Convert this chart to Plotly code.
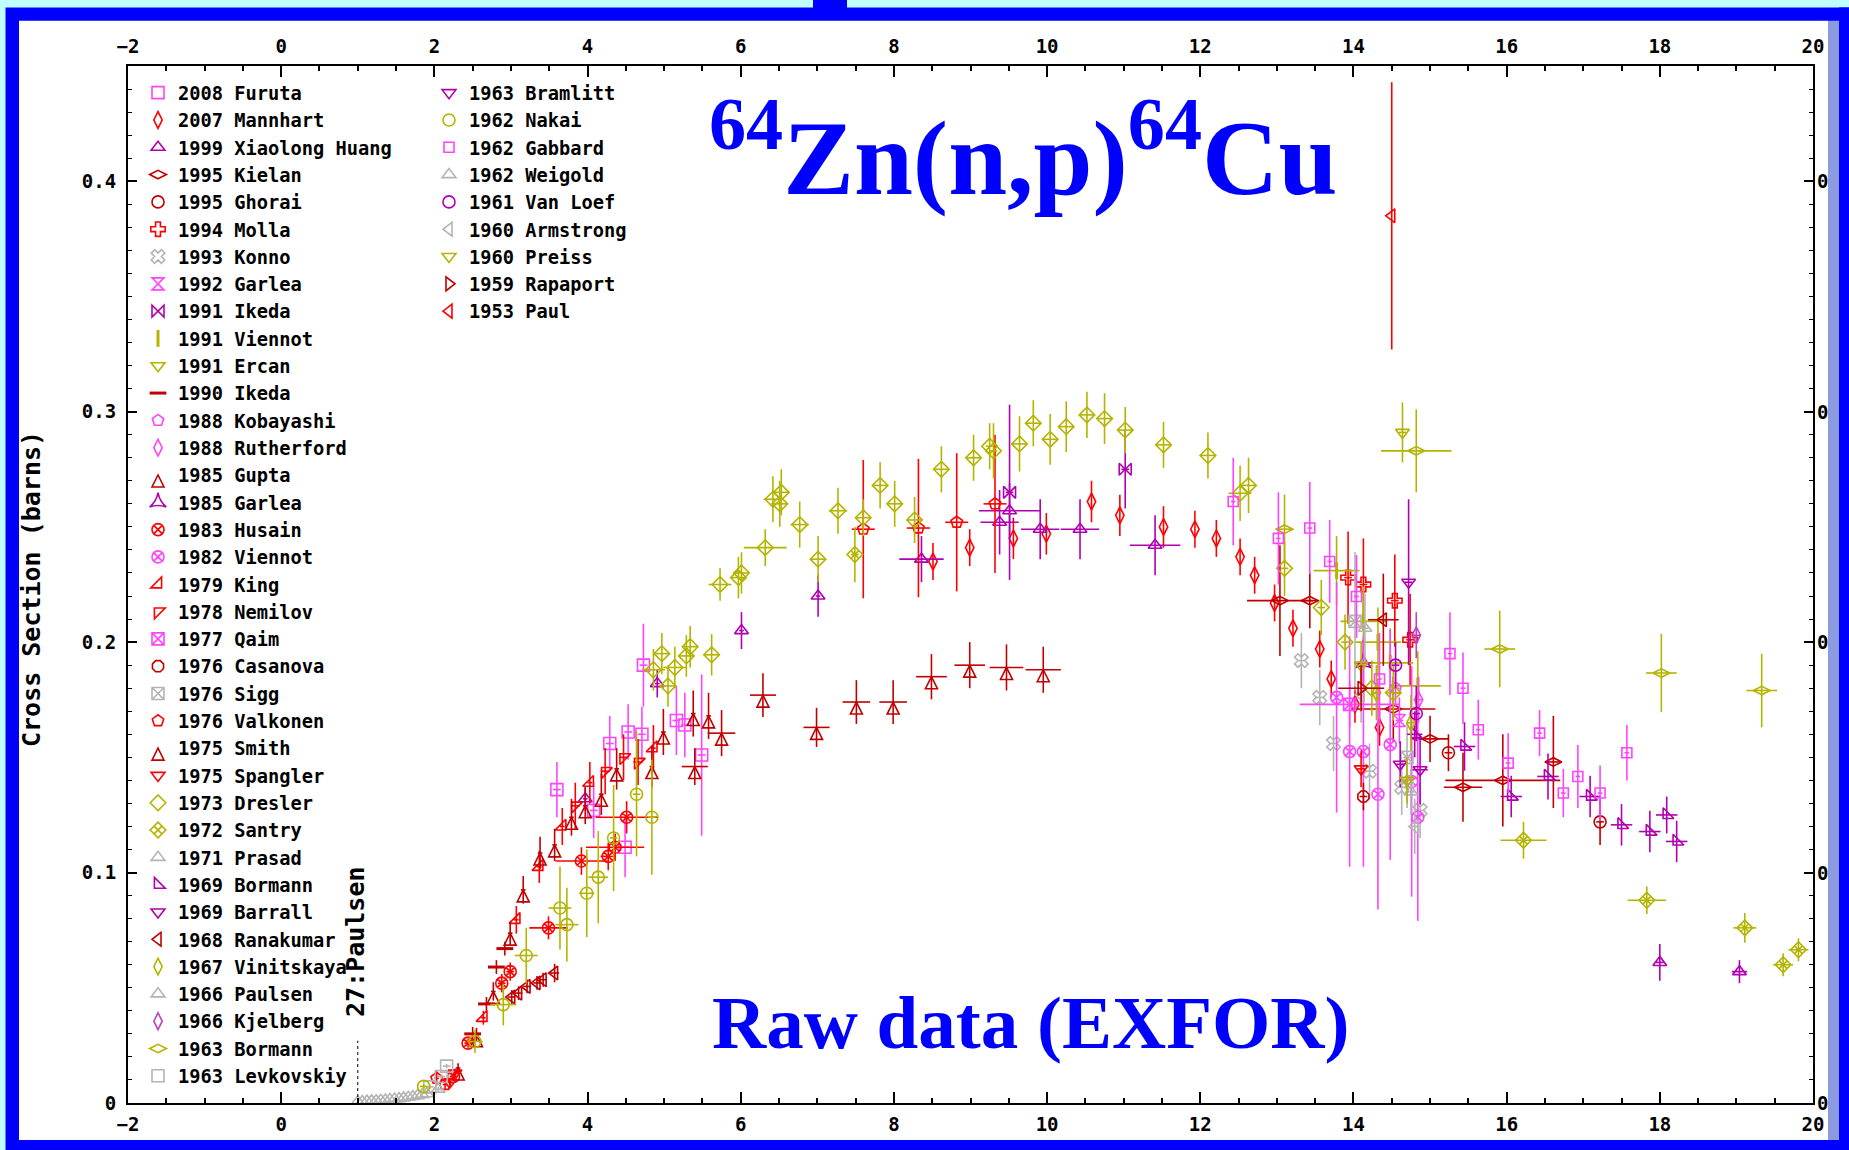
import plotly.graph_objects as go

# ---------------- data: rows are (E [MeV], sigma [b], d_sigma [b], d_E [MeV]) ----------------
furuta = [(3.60, 0.136, 0.012, 0.05), (4.08, 0.127, 0.012, 0.05), (4.29, 0.156, 0.012, 0.05),
          (4.49, 0.111, 0.013, 0.05), (4.53, 0.161, 0.012, 0.05), (4.71, 0.160, 0.012, 0.05),
          (4.73, 0.190, 0.018, 0.05), (5.16, 0.166, 0.015, 0.05), (5.27, 0.164, 0.014, 0.05),
          (5.49, 0.151, 0.035, 0.05)]
mannhart = [(8.51, 0.235, 0.008, 0), (8.99, 0.241, 0.008, 0), (9.56, 0.245, 0.009, 0), (9.99, 0.247, 0.009, 0),
            (10.58, 0.261, 0.009, 0), (10.95, 0.255, 0.009, 0), (11.52, 0.250, 0.009, 0), (11.93, 0.249, 0.008, 0),
            (12.21, 0.245, 0.008, 0), (12.52, 0.237, 0.008, 0), (12.71, 0.229, 0.008, 0), (12.97, 0.217, 0.008, 0),
            (13.21, 0.206, 0.008, 0), (13.56, 0.197, 0.008, 0), (13.71, 0.184, 0.008, 0), (14.02, 0.173, 0.008, 0),
            (14.34, 0.163, 0.008, 0)]
xiaolong_huang = [(3.97, 0.132, 0.005, 0.03), (4.91, 0.182, 0.006, 0.03), (6.01, 0.205, 0.008, 0.03),
                  (7.01, 0.220, 0.009, 0.03), (8.36, 0.236, 0.010, 0.29), (9.38, 0.252, 0.014, 0.25),
                  (9.51, 0.257, 0.012, 0.40), (9.91, 0.249, 0.013, 0.25), (10.43, 0.249, 0.013, 0.25),
                  (11.41, 0.242, 0.013, 0.33), (18.00, 0.061, 0.008, 0.05), (19.04, 0.057, 0.005, 0.10)]
kielan = [(13.04, 0.218, 0.024, 0.43), (13.43, 0.218, 0.012, 0.12), (14.52, 0.171, 0.014, 0.55),
          (15.00, 0.158, 0.010, 0.25), (15.43, 0.137, 0.015, 0.25), (15.95, 0.140, 0.020, 0.75),
          (16.61, 0.148, 0.020, 0.10)]
ghorai = [(15.24, 0.152, 0.008, 0.05), (17.22, 0.122, 0.010, 0.05)]
molla = [(13.93, 0.228, 0.020, 0.05), (14.13, 0.225, 0.020, 0.05), (14.54, 0.218, 0.020, 0.05),
         (14.74, 0.201, 0.020, 0.05)]
konno = [(13.32, 0.192, 0.012, 0.05), (13.56, 0.176, 0.012, 0.05), (13.74, 0.156, 0.012, 0.05),
         (14.21, 0.144, 0.012, 0.05), (14.63, 0.137, 0.012, 0.05), (14.87, 0.127, 0.012, 0.05)]
garlea_1992 = [(14.60, 0.166, 0.010, 0.05)]
ikeda_1991 = [(9.51, 0.265, 0.038, 0.05), (11.02, 0.275, 0.017, 0.05)]
viennot_1991 = [(13.78, 0.231, 0.015, 0.30), (14.13, 0.209, 0.015, 0.30), (14.32, 0.200, 0.015, 0.30),
                (14.48, 0.191, 0.015, 0.30), (14.84, 0.181, 0.015, 0.30)]
ercan = [(14.64, 0.291, 0.013, 0.05)]
ikeda_1990 = [(2.50, 0.030, 0.003, 0.08), (2.68, 0.043, 0.003, 0.08), (2.81, 0.059, 0.003, 0.08),
              (2.92, 0.067, 0.003, 0.08)]
kobayashi = [(14.55, 0.180, 0.008, 0.05)]
rutherford = [(14.85, 0.175, 0.010, 0.05)]
gupta = [(6.29, 0.177, 0.0095, 0.17), (6.99, 0.163, 0.0085, 0.17), (7.51, 0.174, 0.0095, 0.18),
         (7.99, 0.174, 0.0095, 0.18), (8.49, 0.185, 0.0098, 0.20), (8.99, 0.190, 0.010, 0.20),
         (9.47, 0.189, 0.010, 0.22), (9.95, 0.188, 0.010, 0.23)]
garlea_1985 = [(14.13, 0.191, 0.010, 0.12)]
husain = [(2.25, 0.0115, 0.002, 0.05), (2.44, 0.026, 0.002, 0.05), (2.88, 0.052, 0.004, 0.05),
          (2.99, 0.057, 0.004, 0.05), (3.49, 0.076, 0.005, 0.25), (3.92, 0.105, 0.006, 0.34),
          (4.27, 0.107, 0.006, 0.10), (4.36, 0.111, 0.006, 0.38), (4.51, 0.124, 0.007, 0.40)]
viennot_1982 = [(13.78, 0.176, 0.050, 0), (13.95, 0.1525, 0.050, 0), (14.13, 0.1525, 0.050, 0),
                (14.32, 0.134, 0.050, 0), (14.48, 0.1555, 0.050, 0), (14.76, 0.1395, 0.050, 0),
                (14.84, 0.124, 0.045, 0)]
king = [(2.64, 0.037, 0.003, 0.03), (3.07, 0.0795, 0.006, 0.03), (3.37, 0.1025, 0.007, 0.03),
        (3.67, 0.120, 0.008, 0.03), (4.03, 0.139, 0.009, 0.03), (4.86, 0.154, 0.010, 0.03)]
nemilov = [(3.84, 0.129, 0.010, 0.06), (4.23, 0.144, 0.010, 0.06), (4.47, 0.150, 0.010, 0.06),
           (4.66, 0.148, 0.010, 0.06)]
qaim = [(13.95, 0.173, 0.010, 0.65)]
casanova = [(14.13, 0.133, 0.006, 0.05)]
sigg = [(14.02, 0.209, 0.030, 0.05), (14.70, 0.150, 0.015, 0.05)]
valkonen = [(2.03, 0.0107, 0.003, 0.03), (2.14, 0.008, 0.002, 0.03), (7.60, 0.249, 0.030, 0.15),
            (8.32, 0.2495, 0.030, 0.15), (8.82, 0.252, 0.030, 0.15), (9.32, 0.260, 0.030, 0.15)]
smith = [(2.31, 0.0152, 0.002, 0.03), (2.55, 0.0296, 0.003, 0.03), (2.77, 0.0484, 0.004, 0.03),
         (2.99, 0.0737, 0.005, 0.03), (3.16, 0.0925, 0.006, 0.03), (3.38, 0.1085, 0.007, 0.03),
         (3.57, 0.112, 0.007, 0.03), (3.79, 0.124, 0.008, 0.03), (3.97, 0.129, 0.008, 0.03),
         (4.18, 0.134, 0.009, 0.03), (4.38, 0.145, 0.009, 0.03), (4.84, 0.146, 0.009, 0.03),
         (4.99, 0.161, 0.010, 0.03), (5.38, 0.169, 0.010, 0.03), (5.40, 0.146, 0.008, 0.17),
         (5.58, 0.168, 0.010, 0.03), (5.75, 0.1605, 0.010, 0.18)]
spangler = [(2.20, 0.009, 0.002, 0.03), (2.27, 0.013, 0.002, 0.03), (14.10, 0.145, 0.008, 0.05)]
dresler = [(4.86, 0.188, 0.009, 0.15), (4.97, 0.195, 0.009, 0.10), (5.05, 0.181, 0.009, 0.10),
           (5.14, 0.189, 0.009, 0.15), (5.29, 0.194, 0.009, 0.10), (5.34, 0.198, 0.009, 0.10),
           (5.62, 0.1945, 0.009, 0.10), (5.73, 0.225, 0.007, 0.15), (5.97, 0.228, 0.009, 0.10),
           (6.01, 0.230, 0.009, 0.10), (6.32, 0.241, 0.008, 0.28), (6.42, 0.262, 0.010, 0.12),
           (6.51, 0.260, 0.010, 0.10), (6.53, 0.265, 0.010, 0.10), (6.77, 0.251, 0.010, 0.12),
           (7.01, 0.236, 0.010, 0.10), (7.27, 0.257, 0.010, 0.12), (7.60, 0.254, 0.008, 0.10),
           (7.82, 0.268, 0.010, 0.10), (8.01, 0.260, 0.010, 0.10), (8.27, 0.253, 0.010, 0.10),
           (8.62, 0.275, 0.010, 0.10), (9.04, 0.280, 0.010, 0.10), (9.25, 0.285, 0.010, 0.05),
           (9.30, 0.283, 0.012, 0.05), (9.64, 0.286, 0.012, 0.10), (9.82, 0.295, 0.010, 0.10),
           (10.04, 0.288, 0.011, 0.10), (10.25, 0.2935, 0.011, 0.10), (10.52, 0.2986, 0.010, 0.10),
           (10.75, 0.297, 0.011, 0.10), (11.02, 0.292, 0.010, 0.10), (11.52, 0.2856, 0.010, 0.10),
           (12.10, 0.281, 0.010, 0.10), (12.52, 0.2646, 0.012, 0.15), (12.63, 0.268, 0.012, 0.10),
           (13.10, 0.232, 0.012, 0.05), (13.58, 0.215, 0.012, 0.05), (13.89, 0.200, 0.012, 0.05),
           (14.24, 0.180, 0.012, 0.10), (14.52, 0.178, 0.012, 0.10)]
santry = [(7.49, 0.238, 0.012, 0.05), (16.22, 0.114, 0.008, 0.30), (17.83, 0.088, 0.006, 0.25),
          (19.11, 0.076, 0.0065, 0.15), (19.61, 0.060, 0.005, 0.13), (19.81, 0.0665, 0.005, 0.13)]
prasad = [(2.05, 0.006, 0.001, 0.05), (14.75, 0.135, 0.010, 0.05)]
bormann_1969 = [(14.80, 0.160, 0.010, 0.10), (15.45, 0.1547, 0.0105, 0.14), (16.06, 0.133, 0.009, 0.14),
                (16.54, 0.1417, 0.010, 0.14), (17.09, 0.133, 0.009, 0.14), (17.50, 0.1207, 0.009, 0.14),
                (17.87, 0.1178, 0.009, 0.14), (18.09, 0.125, 0.008, 0.14), (18.22, 0.1135, 0.009, 0.14)]
barrall = [(14.87, 0.1446, 0.015, 0.10)]
ranakumar = [(3.01, 0.046, 0.003, 0.05), (3.10, 0.0477, 0.003, 0.05), (3.21, 0.0506, 0.003, 0.05),
             (3.34, 0.0521, 0.003, 0.05), (3.42, 0.0535, 0.003, 0.05), (3.57, 0.0564, 0.004, 0.06),
             (14.39, 0.2097, 0.020, 0.20)]
vinitskaya = [(14.30, 0.178, 0.012, 0.05), (14.75, 0.165, 0.012, 0.05)]
paulsen = [(1.00, 0.0005, 0, 0), (1.06, 0.0006, 0, 0), (1.12, 0.0008, 0, 0), (1.18, 0.0009, 0, 0),
           (1.24, 0.0010, 0, 0), (1.30, 0.0012, 0, 0), (1.36, 0.0013, 0, 0), (1.42, 0.0015, 0, 0),
           (1.48, 0.0017, 0, 0), (1.54, 0.0019, 0, 0), (1.60, 0.0022, 0, 0), (1.66, 0.0025, 0, 0),
           (1.72, 0.0028, 0, 0), (1.78, 0.0032, 0, 0), (1.84, 0.0036, 0, 0), (1.90, 0.0040, 0, 0)]
kjelberg = [(14.82, 0.203, 0.010, 0.05)]
bormann_1963 = [(13.10, 0.249, 0.015, 0.12), (14.82, 0.283, 0.018, 0.46), (15.91, 0.197, 0.0166, 0.20),
                (18.02, 0.1866, 0.017, 0.20), (19.33, 0.179, 0.016, 0.20)]
levkovskiy = [(1.94, 0.007, 0.001, 0.05), (2.09, 0.0115, 0.001, 0.05), (2.16, 0.016, 0.001, 0.05)]
bramlitt = [(14.72, 0.226, 0.036, 0.05), (14.61, 0.147, 0.010, 0.05)]
nakai = [(1.86, 0.0072, 0.001, 0.05), (2.53, 0.0267, 0.005, 0.10), (2.90, 0.0427, 0.009, 0.17),
         (3.20, 0.064, 0.012, 0.15), (3.64, 0.0846, 0.018, 0.15), (3.73, 0.0774, 0.016, 0.15),
         (3.99, 0.091, 0.019, 0.10), (4.14, 0.098, 0.020, 0.13), (4.34, 0.115, 0.023, 0.05),
         (4.64, 0.134, 0.027, 0.05), (4.84, 0.124, 0.025, 0.05)]
gabbard = [(12.43, 0.261, 0.019, 0.03), (13.02, 0.245, 0.020, 0.03), (13.43, 0.2495, 0.020, 0.03),
           (13.69, 0.235, 0.018, 0.03), (14.04, 0.2198, 0.018, 0.03), (14.34, 0.184, 0.020, 0.03),
           (15.26, 0.195, 0.018, 0.03), (15.43, 0.180, 0.0155, 0.03), (15.63, 0.162, 0.013, 0.03),
           (16.02, 0.1475, 0.013, 0.03), (16.43, 0.1605, 0.010, 0.03), (16.74, 0.1345, 0.0105, 0.03),
           (16.93, 0.1417, 0.0137, 0.03), (17.22, 0.1345, 0.012, 0.03), (17.57, 0.152, 0.012, 0.03)]
weigold = [(14.15, 0.206, 0.015, 0.05), (14.70, 0.140, 0.012, 0.05)]
van_loef = [(14.82, 0.169, 0.012, 0.05), (14.55, 0.190, 0.010, 0.05)]
armstrong = [(14.10, 0.177, 0.012, 0.05), (14.80, 0.120, 0.012, 0.05)]
preiss = [(14.70, 0.140, 0.010, 0.05), (14.10, 0.190, 0.010, 0.05)]
rapaport = [(14.10, 0.180, 0.010, 0.30)]
paul = [(14.50, 0.385, 0.058, 0)]

LABELS_COL1 = ["2008 Furuta", "2007 Mannhart", "1999 Xiaolong Huang", "1995 Kielan", "1995 Ghorai",
               "1994 Molla", "1993 Konno", "1992 Garlea", "1991 Ikeda", "1991 Viennot", "1991 Ercan",
               "1990 Ikeda", "1988 Kobayashi", "1988 Rutherford", "1985 Gupta", "1985 Garlea",
               "1983 Husain", "1982 Viennot", "1979 King", "1978 Nemilov", "1977 Qaim", "1976 Casanova",
               "1976 Sigg", "1976 Valkonen", "1975 Smith", "1975 Spangler", "1973 Dresler", "1972 Santry",
               "1971 Prasad", "1969 Bormann", "1969 Barrall", "1968 Ranakumar", "1967 Vinitskaya",
               "1966 Paulsen", "1966 Kjelberg", "1963 Bormann", "1963 Levkovskiy"]
LABELS_COL2 = ["1963 Bramlitt", "1962 Nakai", "1962 Gabbard", "1962 Weigold", "1961 Van Loef",
               "1960 Armstrong", "1960 Preiss", "1959 Rapaport", "1953 Paul"]
DATA_COL1 = [furuta, mannhart, xiaolong_huang, kielan, ghorai, molla, konno, garlea_1992, ikeda_1991,
             viennot_1991, ercan, ikeda_1990, kobayashi, rutherford, gupta, garlea_1985, husain,
             viennot_1982, king, nemilov, qaim, casanova, sigg, valkonen, smith, spangler, dresler,
             santry, prasad, bormann_1969, barrall, ranakumar, vinitskaya, paulsen, kjelberg,
             bormann_1963, levkovskiy]
DATA_COL2 = [bramlitt, nakai, gabbard, weigold, van_loef, armstrong, preiss, rapaport, paul]

X_RANGE = [-2, 20]
Y_RANGE = [0, 0.45]
Y_TICKS = [0, 0.1, 0.2, 0.3, 0.4]

# ---------------- styles ----------------
PINK, RED, PURPLE, DRED, OLIVE, GRAY = "#ff44ff", "#ff0000", "#b000b0", "#c00000", "#b4b400", "#b4b4b4"
STYLE = {
    "2008 Furuta": (PINK, "square-open"), "2007 Mannhart": (RED, "diamond-tall-open"),
    "1999 Xiaolong Huang": (PURPLE, "triangle-up-open"), "1995 Kielan": (DRED, "diamond-wide-open"),
    "1995 Ghorai": (DRED, "circle-open"), "1994 Molla": (RED, "cross-open"),
    "1993 Konno": (GRAY, "x-open"), "1992 Garlea": (PINK, "hourglass-open"),
    "1991 Ikeda": (PURPLE, "bowtie-open"), "1991 Viennot": (OLIVE, "line-ns-open"),
    "1991 Ercan": (OLIVE, "triangle-down-open"), "1990 Ikeda": (DRED, "line-ew-open"),
    "1988 Kobayashi": (PINK, "pentagon-open"), "1988 Rutherford": (PINK, "diamond-tall-open"),
    "1985 Gupta": (DRED, "arrow-up-open"), "1985 Garlea": (PURPLE, "star-triangle-up-open"),
    "1983 Husain": (RED, "circle-x-open"), "1982 Viennot": (PINK, "circle-x-open"),
    "1979 King": (RED, "triangle-se-open"), "1978 Nemilov": (RED, "triangle-nw-open"),
    "1977 Qaim": (PINK, "square-x-open"), "1976 Casanova": (DRED, "octagon-open"),
    "1976 Sigg": (GRAY, "square-x-open"), "1976 Valkonen": (RED, "pentagon-open"),
    "1975 Smith": (DRED, "arrow-up-open"), "1975 Spangler": (RED, "triangle-down-open"),
    "1973 Dresler": (OLIVE, "diamond-open"), "1972 Santry": (OLIVE, "diamond-x-open"),
    "1971 Prasad": (GRAY, "triangle-up-open"), "1969 Bormann": (PURPLE, "triangle-sw-open"),
    "1969 Barrall": (PURPLE, "triangle-down-open"), "1968 Ranakumar": (DRED, "triangle-left-open"),
    "1967 Vinitskaya": (OLIVE, "diamond-tall-open"), "1966 Paulsen": (GRAY, "triangle-up-open"),
    "1966 Kjelberg": ("#c040c0", "diamond-tall-open"), "1963 Bormann": (OLIVE, "diamond-wide-open"),
    "1963 Levkovskiy": (GRAY, "square-open"), "1963 Bramlitt": (PURPLE, "triangle-down-open"),
    "1962 Nakai": (OLIVE, "circle-open"), "1962 Gabbard": (PINK, "square-open"),
    "1962 Weigold": (GRAY, "triangle-up-open"), "1961 Van Loef": (PURPLE, "circle-open"),
    "1960 Armstrong": (GRAY, "triangle-left-open"), "1960 Preiss": (OLIVE, "triangle-down-open"),
    "1959 Rapaport": (DRED, "triangle-right-open"), "1953 Paul": (RED, "triangle-left-open"),
}

MONO = "DejaVu Sans Mono"
SERIF = "Liberation Serif"
W, H = 1849, 1150
ML, MR, MT, MB = 128, 36, 66, 47
PW, PH = W - ML - MR, H - MT - MB


def px_x(fx):
    return (fx - ML) / PW


def px_y(fy):
    return (H - MB - fy) / PH


fig = go.Figure()


def add_series(label, rows, legend):
    col, sym = STYLE[label]
    e, s, ds, de = (list(v) for v in zip(*rows))
    thick = 3 if sym.startswith("line") else 1.6
    fig.add_trace(go.Scatter(
        x=e, y=s, mode="markers", name=label, legend=legend,
        marker=dict(symbol=sym, size=12 if label != "1962 Gabbard" else 10, color=col,
                    line=dict(color=col, width=thick)),
        error_y=dict(type="data", array=ds, visible=True, thickness=1.6, width=0, color=col),
        error_x=dict(type="data", array=de, visible=True, thickness=1.6, width=0, color=col),
        hoverinfo="skip",
    ))


for lab, rows in zip(LABELS_COL1, DATA_COL1):
    add_series(lab, rows, "legend")
for lab, rows in zip(LABELS_COL2, DATA_COL2):
    add_series(lab, rows, "legend2")

# invisible trace to activate the mirrored top / right axes
fig.add_trace(go.Scatter(x=[X_RANGE[0]], y=[Y_RANGE[0]], xaxis="x2", yaxis="y2", mode="markers",
                         marker=dict(opacity=0), showlegend=False, hoverinfo="skip"))

tickfont = dict(family=MONO, size=19, color="black", weight="bold")
common_x = dict(range=X_RANGE, dtick=2, tick0=0, ticks="inside", ticklen=11, tickwidth=1.5,
                tickcolor="black", showline=True, linewidth=2, linecolor="black", showgrid=False,
                zeroline=False, tickfont=tickfont, automargin=False,
                minor=dict(dtick=0.5, ticks="inside", ticklen=5, tickwidth=1.5, tickcolor="black"))
common_y = dict(range=Y_RANGE, tickvals=Y_TICKS, ticks="inside", ticklen=9, tickwidth=1.5,
                tickcolor="black", showline=True, linewidth=2, linecolor="black", showgrid=False,
                zeroline=False, tickfont=tickfont, automargin=False,
                minor=dict(dtick=0.01, ticks="inside", ticklen=4, tickwidth=1.2, tickcolor="black"))

legend_font = dict(family=MONO, size=18.7, color="black", weight="bold")
fig.update_layout(
    width=W, height=H, autosize=False,
    margin=dict(l=ML, r=MR, t=MT, b=MB, pad=0, autoexpand=False),
    paper_bgcolor="#0000ff", plot_bgcolor="white",
    hovermode=False,
    xaxis=dict(**common_x, side="bottom", anchor="y", ticklabelstandoff=3),
    yaxis=dict(**common_y, side="left", anchor="x", ticklabelstandoff=6),
    xaxis2=dict(**common_x, side="top", anchor="y", overlaying="x", matches="x", ticklabelstandoff=3),
    yaxis2=dict(**common_y, side="right", anchor="x", overlaying="y", matches="y", showticklabels=False),
    legend=dict(x=px_x(138), y=px_y(74), xanchor="left", yanchor="top", font=legend_font,
                bgcolor="rgba(0,0,0,0)", borderwidth=0, tracegroupgap=0, itemclick=False),
    legend2=dict(x=px_x(429), y=px_y(74), xanchor="left", yanchor="top", font=legend_font,
                 bgcolor="rgba(0,0,0,0)", borderwidth=0, tracegroupgap=0, itemclick=False),
)

# frame: cyan outer strip, blue border, white page, lavender right edge
shapes = [
    dict(type="rect", xref="paper", yref="paper", layer="below", line=dict(width=0), fillcolor="white",
         x0=px_x(19), x1=px_x(1828), y0=px_y(1140), y1=px_y(20.7)),
    dict(type="rect", xref="paper", yref="paper", layer="below", line=dict(width=0), fillcolor="#c0ffff",
         x0=px_x(0), x1=px_x(W), y0=px_y(7.5), y1=px_y(0)),
    dict(type="rect", xref="paper", yref="paper", layer="below", line=dict(width=0), fillcolor="#c0ffff",
         x0=px_x(0), x1=px_x(5.5), y0=px_y(H), y1=px_y(0)),
    dict(type="rect", xref="paper", yref="paper", layer="below", line=dict(width=0), fillcolor="#0000ff",
         x0=px_x(813), x1=px_x(847), y0=px_y(8), y1=px_y(0)),
    dict(type="rect", xref="paper", yref="paper", layer="above", line=dict(width=0), fillcolor="#8c9be0",
         x0=px_x(1828), x1=px_x(1839), y0=px_y(1140), y1=px_y(20.7)),
    dict(type="rect", xref="paper", yref="paper", layer="above", line=dict(width=0), fillcolor="#0000ff",
         x0=px_x(1839), x1=px_x(W), y0=px_y(H), y1=px_y(7.5)),
    # Paulsen marker line
    dict(type="line", xref="x", yref="y", x0=paulsen[0][0], x1=paulsen[0][0], y0=0, y1=0.027,
         line=dict(color="black", width=1, dash="dot")),
]
fig.update_layout(shapes=shapes)

annotations = [
    dict(text="<sup>64</sup>Zn(n,p)<sup>64</sup>Cu", xref="paper", yref="paper",
         x=px_x(1024), y=px_y(150), xanchor="center", yanchor="middle", showarrow=False,
         font=dict(family=SERIF, size=106, color="#0000ff", weight="bold")),
    dict(text="Raw data (EXFOR)", xref="paper", yref="paper",
         x=px_x(1030), y=px_y(1022), xanchor="center", yanchor="middle", showarrow=False,
         font=dict(family=SERIF, size=75, color="#0000ff", weight="bold")),
    dict(text="Cross Section (barns)", xref="paper", yref="paper", textangle=-90,
         x=px_x(31), y=px_y(589), xanchor="center", yanchor="middle", showarrow=False,
         font=dict(family=MONO, size=25, color="black", weight="bold")),
    dict(text="27:Paulsen", xref="paper", yref="paper", textangle=-90,
         x=px_x(355), y=px_y(942), xanchor="center", yanchor="middle", showarrow=False,
         font=dict(family=MONO, size=25, color="black", weight="bold")),
]
# right-hand axis labels: only their leading "0" is visible before the window edge
for yv in Y_TICKS:
    annotations.append(dict(text="0", xref="paper", yref="y", x=px_x(1829), y=yv,
                            xanchor="right", yanchor="middle", showarrow=False, borderpad=0,
                            font=dict(family=MONO, size=19, color="black", weight="bold")))
fig.update_layout(annotations=annotations)

fig.write_html("out.html")
